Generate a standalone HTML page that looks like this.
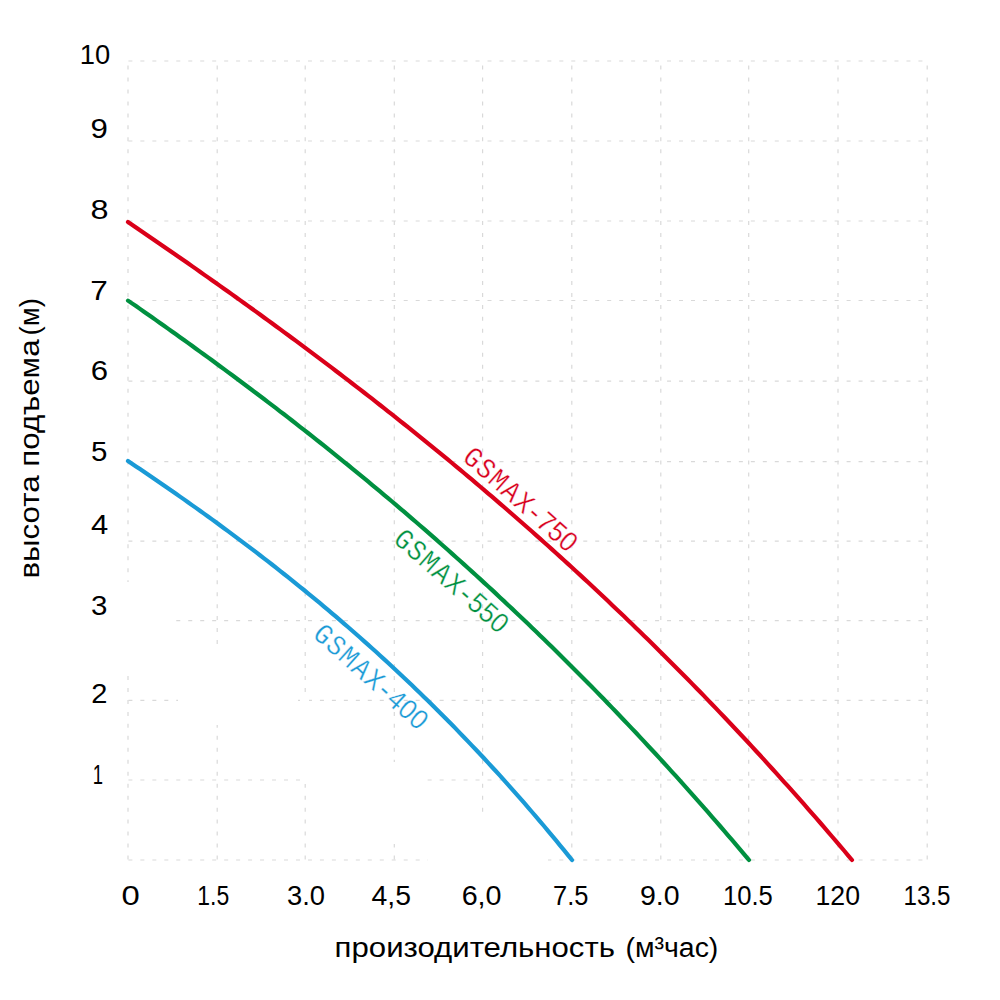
<!DOCTYPE html>
<html><head><meta charset="utf-8"><style>
html,body{margin:0;padding:0;background:#fff;}
svg{display:block;}
text{font-family:"Liberation Sans",sans-serif;}
.mono text{font-family:"Liberation Mono",monospace;}
</style></head><body>
<svg width="1000" height="1000" viewBox="0 0 1000 1000">
<rect width="1000" height="1000" fill="#fff"/>
<g stroke="#d9d9d9" stroke-width="1.2" stroke-dasharray="4 7.97" fill="none">
<line x1="128" y1="61.00" x2="927.2" y2="61.00" stroke-dashoffset="11.57"/>
<line x1="128" y1="141.00" x2="927.2" y2="141.00" stroke-dashoffset="11.57"/>
<line x1="128" y1="221.00" x2="927.2" y2="221.00" stroke-dashoffset="11.57"/>
<line x1="128" y1="300.50" x2="927.2" y2="300.50" stroke-dashoffset="11.57"/>
<line x1="128" y1="381.20" x2="927.2" y2="381.20" stroke-dashoffset="11.57"/>
<line x1="128" y1="461.60" x2="927.2" y2="461.60" stroke-dashoffset="11.57"/>
<line x1="128" y1="541.20" x2="927.2" y2="541.20" stroke-dashoffset="11.57"/>
<line x1="128" y1="620.60" x2="927.2" y2="620.60" stroke-dashoffset="11.57"/>
<line x1="128" y1="700.40" x2="927.2" y2="700.40" stroke-dashoffset="11.57"/>
<line x1="128" y1="780.00" x2="927.2" y2="780.00" stroke-dashoffset="11.57"/>
<line x1="128" y1="860.00" x2="927.2" y2="860.00" stroke-dashoffset="11.57"/>
<line x1="128.00" y1="61" x2="128.00" y2="860" stroke-dashoffset="7.47"/>
<line x1="217.20" y1="61" x2="217.20" y2="860" stroke-dashoffset="7.47"/>
<line x1="305.20" y1="61" x2="305.20" y2="860" stroke-dashoffset="7.47"/>
<line x1="394.30" y1="61" x2="394.30" y2="860" stroke-dashoffset="7.47"/>
<line x1="482.60" y1="61" x2="482.60" y2="860" stroke-dashoffset="7.47"/>
<line x1="571.80" y1="61" x2="571.80" y2="860" stroke-dashoffset="7.47"/>
<line x1="660.80" y1="61" x2="660.80" y2="860" stroke-dashoffset="7.47"/>
<line x1="748.70" y1="61" x2="748.70" y2="860" stroke-dashoffset="7.47"/>
<line x1="838.00" y1="61" x2="838.00" y2="860" stroke-dashoffset="7.47"/>
<line x1="927.20" y1="61" x2="927.20" y2="860" stroke-dashoffset="7.47"/>
</g>
<g fill="#fff">
<rect x="124" y="582" width="8" height="91"/>
<rect x="213" y="645" width="8" height="80"/>
<rect x="301" y="692" width="8" height="92"/>
<rect x="390" y="762" width="8" height="82"/>
<rect x="479" y="812" width="8" height="51"/>
<rect x="120" y="616" width="56" height="8"/>
<rect x="178" y="696" width="120" height="8"/>
<rect x="302" y="776" width="124" height="8"/>
<rect x="428" y="855.5" width="120" height="8"/>
</g>
<g font-size="27" fill="#000">
<text transform="translate(79.87,64.10) scale(1.013,1.005)">10</text>
<text transform="translate(90.45,137.80) scale(1.154,1.021)">9</text>
<text transform="translate(90.40,219.00) scale(1.200,1.032)">8</text>
<text transform="translate(90.23,299.80) scale(1.169,1.032)">7</text>
<text transform="translate(90.85,379.80) scale(1.154,1.026)">6</text>
<text transform="translate(91.11,460.60) scale(1.092,1.026)">5</text>
<text transform="translate(91.00,533.80) scale(1.147,1.021)">4</text>
<text transform="translate(90.91,614.60) scale(1.092,1.011)">3</text>
<text transform="translate(91.32,703.00) scale(1.077,1.053)">2</text>
<text transform="translate(92.83,783.80) scale(0.683,1.032)">1</text>
<text transform="translate(121.58,905.4) scale(1.215,1.021)">0</text>
<text transform="translate(197.30,905.4) scale(0.851,1.021)">1.5</text>
<text transform="translate(286.99,905.4) scale(1.014,1.021)">3.0</text>
<text transform="translate(371.50,905.4) scale(1.051,1.021)">4,5</text>
<text transform="translate(461.64,905.4) scale(1.064,1.021)">6,0</text>
<text transform="translate(553.06,905.4) scale(0.944,1.021)">7.5</text>
<text transform="translate(639.94,905.4) scale(1.056,1.021)">9.0</text>
<text transform="translate(722.90,905.4) scale(0.950,1.021)">10.5</text>
<text transform="translate(815.52,905.4) scale(0.988,1.021)">120</text>
<text transform="translate(903.51,905.4) scale(0.894,1.021)">13.5</text>
<text transform="translate(334.62,956.5) scale(1.176,1.07)" font-size="26.5">произодительность</text>
<text transform="translate(625.42,956.5) scale(1.075,1.07)" font-size="26.5">(м³час)</text>
<text transform="translate(39.3,578.58) rotate(-90) scale(1.182,1.07)" font-size="26.5">высота подъема</text>
<text transform="translate(39.3,335.54) rotate(-90) scale(1.044,1.07)" font-size="26.5">(м)</text>
</g>
<g fill="none" stroke-width="4.2" stroke-linecap="round" stroke-linejoin="round">
<path d="M128.0,222.0 L132.0,224.7 L136.0,227.5 L140.0,230.2 L144.0,232.9 L148.0,235.7 L152.0,238.4 L156.0,241.2 L160.0,243.9 L164.0,246.7 L168.0,249.4 L172.0,252.2 L176.0,255.0 L180.0,257.8 L184.0,260.5 L188.0,263.3 L192.0,266.1 L196.0,268.9 L200.0,271.7 L204.0,274.6 L208.0,277.4 L212.0,280.2 L216.0,283.0 L220.0,285.9 L224.0,288.7 L228.0,291.5 L232.0,294.4 L236.0,297.3 L240.0,300.1 L244.0,303.0 L248.0,305.9 L252.0,308.8 L256.0,311.6 L260.0,314.5 L264.0,317.5 L268.0,320.4 L272.0,323.3 L276.0,326.2 L280.0,329.1 L284.0,332.1 L288.0,335.0 L292.0,338.0 L296.0,340.9 L300.0,343.9 L304.0,346.9 L308.0,349.9 L312.0,352.9 L316.0,355.9 L320.0,358.9 L324.0,361.9 L328.0,364.9 L332.0,367.9 L336.0,371.0 L340.0,374.0 L344.0,377.1 L348.0,380.2 L352.0,383.2 L356.0,386.3 L360.0,389.4 L364.0,392.5 L368.0,395.6 L372.0,398.7 L376.0,401.8 L380.0,405.0 L384.0,408.1 L388.0,411.3 L392.0,414.4 L396.0,417.6 L400.0,420.8 L404.0,424.0 L408.0,427.2 L412.0,430.4 L416.0,433.6 L420.0,436.8 L424.0,440.1 L428.0,443.3 L432.0,446.6 L436.0,449.8 L440.0,453.1 L444.0,456.4 L448.0,459.7 L452.0,463.0 L456.0,466.3 L460.0,469.7 L464.0,473.0 L468.0,476.4 L472.0,479.7 L476.0,483.1 L480.0,486.5 L484.0,489.9 L488.0,493.3 L492.0,496.7 L496.0,500.1 L500.0,503.6 L504.0,507.0 L508.0,510.5 L512.0,514.0 L516.0,517.5 L520.0,521.0 L524.0,524.5 L528.0,528.0 L532.0,531.5 L536.0,535.1 L540.0,538.6 L544.0,542.2 L548.0,545.8 L552.0,549.4 L556.0,553.0 L560.0,556.6 L564.0,560.2 L568.0,563.9 L572.0,567.5 L576.0,571.2 L580.0,574.9 L584.0,578.6 L588.0,582.3 L592.0,586.0 L596.0,589.8 L600.0,593.5 L604.0,597.3 L608.0,601.1 L612.0,604.9 L616.0,608.7 L620.0,612.5 L624.0,616.3 L628.0,620.2 L632.0,624.0 L636.0,627.9 L640.0,631.8 L644.0,635.7 L648.0,639.6 L652.0,643.5 L656.0,647.5 L660.0,651.4 L664.0,655.4 L668.0,659.4 L672.0,663.4 L676.0,667.4 L680.0,671.4 L684.0,675.5 L688.0,679.5 L692.0,683.6 L696.0,687.7 L700.0,691.8 L704.0,695.9 L708.0,700.1 L712.0,704.2 L716.0,708.4 L720.0,712.6 L724.0,716.8 L728.0,721.0 L732.0,725.2 L736.0,729.5 L740.0,733.8 L744.0,738.0 L748.0,742.3 L752.0,746.7 L756.0,751.0 L760.0,755.3 L764.0,759.7 L768.0,764.1 L772.0,768.5 L776.0,772.9 L780.0,777.3 L784.0,781.8 L788.0,786.2 L792.0,790.7 L796.0,795.2 L800.0,799.7 L804.0,804.2 L808.0,808.8 L812.0,813.4 L816.0,817.9 L820.0,822.5 L824.0,827.2 L828.0,831.8 L832.0,836.5 L836.0,841.1 L840.0,845.8 L844.0,850.5 L848.0,855.3 L852.0,860.0" stroke="#da0019"/>
<path d="M128.0,300.6 L132.0,303.4 L136.0,306.1 L140.0,308.9 L144.0,311.7 L148.0,314.5 L152.0,317.3 L156.0,320.1 L160.0,323.0 L164.0,325.8 L168.0,328.6 L172.0,331.5 L176.0,334.3 L180.0,337.2 L184.0,340.0 L188.0,342.9 L192.0,345.8 L196.0,348.7 L200.0,351.6 L204.0,354.5 L208.0,357.4 L212.0,360.3 L216.0,363.2 L220.0,366.2 L224.0,369.1 L228.0,372.1 L232.0,375.0 L236.0,378.0 L240.0,381.0 L244.0,384.0 L248.0,387.0 L252.0,390.0 L256.0,393.0 L260.0,396.0 L264.0,399.0 L268.0,402.1 L272.0,405.1 L276.0,408.2 L280.0,411.3 L284.0,414.3 L288.0,417.4 L292.0,420.5 L296.0,423.7 L300.0,426.8 L304.0,429.9 L308.0,433.0 L312.0,436.2 L316.0,439.4 L320.0,442.5 L324.0,445.7 L328.0,448.9 L332.0,452.1 L336.0,455.3 L340.0,458.6 L344.0,461.8 L348.0,465.0 L352.0,468.3 L356.0,471.6 L360.0,474.9 L364.0,478.1 L368.0,481.4 L372.0,484.8 L376.0,488.1 L380.0,491.4 L384.0,494.8 L388.0,498.1 L392.0,501.5 L396.0,504.9 L400.0,508.3 L404.0,511.7 L408.0,515.1 L412.0,518.6 L416.0,522.0 L420.0,525.5 L424.0,528.9 L428.0,532.4 L432.0,535.9 L436.0,539.4 L440.0,543.0 L444.0,546.5 L448.0,550.0 L452.0,553.6 L456.0,557.2 L460.0,560.8 L464.0,564.4 L468.0,568.0 L472.0,571.6 L476.0,575.2 L480.0,578.9 L484.0,582.6 L488.0,586.2 L492.0,589.9 L496.0,593.6 L500.0,597.4 L504.0,601.1 L508.0,604.9 L512.0,608.6 L516.0,612.4 L520.0,616.2 L524.0,620.0 L528.0,623.8 L532.0,627.7 L536.0,631.5 L540.0,635.4 L544.0,639.3 L548.0,643.2 L552.0,647.1 L556.0,651.0 L560.0,655.0 L564.0,658.9 L568.0,662.9 L572.0,666.9 L576.0,670.9 L580.0,674.9 L584.0,678.9 L588.0,683.0 L592.0,687.0 L596.0,691.1 L600.0,695.2 L604.0,699.3 L608.0,703.5 L612.0,707.6 L616.0,711.8 L620.0,716.0 L624.0,720.2 L628.0,724.4 L632.0,728.6 L636.0,732.8 L640.0,737.1 L644.0,741.4 L648.0,745.7 L652.0,750.0 L656.0,754.3 L660.0,758.7 L664.0,763.0 L668.0,767.4 L672.0,771.8 L676.0,776.2 L680.0,780.7 L684.0,785.1 L688.0,789.6 L692.0,794.1 L696.0,798.6 L700.0,803.1 L704.0,807.6 L708.0,812.2 L712.0,816.8 L716.0,821.4 L720.0,826.0 L724.0,830.6 L728.0,835.3 L732.0,839.9 L736.0,844.6 L740.0,849.3 L744.0,854.1 L748.0,858.8 L749.0,860.0" stroke="#009040"/>
<path d="M128.0,461.0 L132.0,463.7 L136.0,466.4 L140.0,469.1 L144.0,471.8 L148.0,474.5 L152.0,477.2 L156.0,480.0 L160.0,482.7 L164.0,485.5 L168.0,488.2 L172.0,491.0 L176.0,493.8 L180.0,496.6 L184.0,499.4 L188.0,502.2 L192.0,505.1 L196.0,507.9 L200.0,510.8 L204.0,513.6 L208.0,516.5 L212.0,519.4 L216.0,522.3 L220.0,525.3 L224.0,528.2 L228.0,531.1 L232.0,534.1 L236.0,537.1 L240.0,540.1 L244.0,543.1 L248.0,546.1 L252.0,549.1 L256.0,552.2 L260.0,555.2 L264.0,558.3 L268.0,561.4 L272.0,564.5 L276.0,567.7 L280.0,570.8 L284.0,574.0 L288.0,577.2 L292.0,580.3 L296.0,583.6 L300.0,586.8 L304.0,590.0 L308.0,593.3 L312.0,596.6 L316.0,599.9 L320.0,603.2 L324.0,606.6 L328.0,609.9 L332.0,613.3 L336.0,616.7 L340.0,620.1 L344.0,623.6 L348.0,627.0 L352.0,630.5 L356.0,634.0 L360.0,637.5 L364.0,641.1 L368.0,644.6 L372.0,648.2 L376.0,651.8 L380.0,655.5 L384.0,659.1 L388.0,662.8 L392.0,666.5 L396.0,670.2 L400.0,674.0 L404.0,677.7 L408.0,681.5 L412.0,685.3 L416.0,689.2 L420.0,693.0 L424.0,696.9 L428.0,700.8 L432.0,704.8 L436.0,708.7 L440.0,712.7 L444.0,716.7 L448.0,720.8 L452.0,724.8 L456.0,728.9 L460.0,733.1 L464.0,737.2 L468.0,741.4 L472.0,745.6 L476.0,749.8 L480.0,754.0 L484.0,758.3 L488.0,762.6 L492.0,767.0 L496.0,771.3 L500.0,775.7 L504.0,780.2 L508.0,784.6 L512.0,789.1 L516.0,793.6 L520.0,798.1 L524.0,802.7 L528.0,807.3 L532.0,812.0 L536.0,816.6 L540.0,821.3 L544.0,826.0 L548.0,830.8 L552.0,835.6 L556.0,840.4 L560.0,845.3 L564.0,850.1 L568.0,855.1 L572.0,860.0" stroke="#1a9ad6"/>
</g>
<g class="mono" font-size="26" text-anchor="middle" stroke="#fff" stroke-width="0.3">
<g transform="translate(520.9,499.4) rotate(41.6) scale(1,1.12)"><text y="8.5" dx="0 1.4 1.4 1.4 1.4 -0.9 -0.9 -0.9 -0.9" fill="#d8001c">GSMAX-750</text><ellipse cx="63.2" cy="0.3" rx="2.4" ry="3.2" fill="#fff" stroke="none"/></g>
<g transform="translate(451.8,580.9) rotate(41.2) scale(1,1.12)"><text y="8.5" dx="0 1.4 1.4 1.4 1.4 -0.9 -0.9 -0.9 -0.9" fill="#009040">GSMAX-550</text><ellipse cx="63.2" cy="0.3" rx="2.4" ry="3.2" fill="#fff" stroke="none"/></g>
<g transform="translate(371.3,676.7) rotate(41.8) scale(1,1.12)"><text y="8.5" dx="0 1.5 1.5 1.5 1.5 -0.7 -0.7 -0.7 -0.7" fill="#1a9ad6">GSMAX-400</text><ellipse cx="64" cy="0.3" rx="2.4" ry="3.2" fill="#fff" stroke="none"/><ellipse cx="49" cy="0.3" rx="2.4" ry="3.2" fill="#fff" stroke="none"/></g>
</g>
</svg>
</body></html>
